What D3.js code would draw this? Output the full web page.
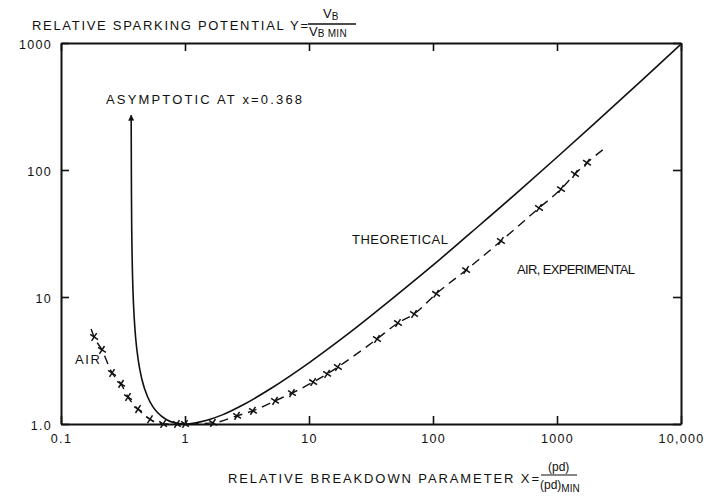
<!DOCTYPE html>
<html lang="en">
<head>
<meta charset="UTF-8">
<title>Relative sparking potential</title>
<style>
  body { margin: 0; background: #fff; }
  text { font-family: "Liberation Sans", Arial, sans-serif; fill: #111; }
</style>
</head>
<body>
<svg id="graph"></svg>
<script src="https://d3js.org/d3.v7.min.js"></script>
<script>
// tick values and labels
const xTicks = [0.1, 1, 10, 100, 1000, 10000];
const xTickLabels = ['0.1', '1', '10', '100', '1000', '10,000'];
const yTicks = [1, 10, 100, 1000];
const yTickLabels = ['1.0', '10', '100', '1000'];

// theoretical curve (X, Y)
const theoryX = [0.368, 0.369, 0.37, 0.372, 0.375, 0.38, 0.39, 0.4, 0.42, 0.45, 0.5, 0.55, 0.6, 0.7, 0.8, 1,
  1.5, 2, 3, 5, 10, 20, 50, 100, 200, 500, 1000, 2000, 5000, 10000];
const theoryY = [270, 121, 65, 33, 19.6, 11.7, 6.7, 4.76, 3.17, 2.23, 1.63, 1.37, 1.23, 1.09, 1.03, 1,
  1.07, 1.18, 1.43, 1.92, 3.03, 5.0, 10.2, 17.8, 31.8, 69, 126, 232, 525, 980];

// air, experimental (dashed line ends + x markers in between)
const airX = [0.175, 0.185, 0.214, 0.258, 0.305, 0.347, 0.418, 0.522, 0.666, 0.861, 1.0, 1.68, 2.63, 3.53,
  5.32, 7.29, 10.8, 14.0, 17.1, 35.3, 52.2, 70.3, 106, 185, 353, 716, 1077, 1396, 1746, 2440];
const airY = [5.6, 4.84, 3.83, 2.52, 2.07, 1.63, 1.31, 1.09, 1.0, 1.0, 1.0, 1.02, 1.16, 1.27,
  1.52, 1.75, 2.14, 2.48, 2.81, 4.67, 6.24, 7.35, 10.6, 16.3, 27.6, 50.2, 70.8, 93, 114, 149];

const width = 711, height = 499;
const margin = { top: 43, right: 30, bottom: 75, left: 61 };
const font = '"Liberation Sans", Arial, sans-serif';

const svg = d3.select('#graph').attr('width', width).attr('height', height);

const x = d3.scaleLog().domain([0.1, 10000]).range([margin.left, width - margin.right]);
const y = d3.scaleLog().domain([1, 1000]).range([height - margin.bottom, margin.top]);

const defs = svg.append('defs');
defs.append('marker')
  .attr('id', 'arrow')
  .attr('viewBox', '0 0 10 10')
  .attr('refX', 9).attr('refY', 5)
  .attr('markerWidth', 6).attr('markerHeight', 9)
  .attr('markerUnits', 'userSpaceOnUse')
  .attr('orient', 'auto-start-reverse')
  .append('path')
  .attr('d', 'M0,0 L10,5 L0,10 z')
  .attr('fill', '#111');

// axes: inward ticks, labels outside
const axBottom = svg.append('g')
  .attr('transform', `translate(0,${y.range()[0]})`)
  .call(d3.axisBottom(x).tickValues(xTicks).tickSizeInner(-8).tickSizeOuter(0)
    .tickPadding(8).tickFormat((d, i) => xTickLabels[i]));
const axTop = svg.append('g')
  .attr('transform', `translate(0,${y.range()[1]})`)
  .call(d3.axisTop(x).tickValues(xTicks).tickSizeInner(-8).tickSizeOuter(0).tickFormat(''));
const axLeft = svg.append('g')
  .attr('transform', `translate(${x.range()[0]},0)`)
  .call(d3.axisLeft(y).tickValues(yTicks).tickSizeInner(-8).tickSizeOuter(0)
    .tickPadding(9).tickFormat((d, i) => yTickLabels[i]));
const axRight = svg.append('g')
  .attr('transform', `translate(${x.range()[1]},0)`)
  .call(d3.axisRight(y).tickValues(yTicks).tickSizeInner(-8).tickSizeOuter(0).tickFormat(''));

[axBottom, axTop, axLeft, axRight].forEach(g => {
  g.select('.domain').attr('stroke', '#111').attr('stroke-width', 2);
  g.selectAll('.tick line').attr('stroke', '#111').attr('stroke-width', 1.6);
  g.selectAll('.tick text').attr('font-size', 12.5).attr('fill', '#111')
    .attr('letter-spacing', 1.3)
    .style('font-family', font);
});
axBottom.selectAll('.tick text').attr('dy', '0.85em');
axLeft.selectAll('.tick text').attr('dy', '0.4em');

// curves
const theory = theoryX.map((d, i) => [d, theoryY[i]]);
const air = airX.map((d, i) => [d, airY[i]]);

const line = d3.line()
  .x(d => x(d[0]))
  .y(d => y(d[1]))
  .curve(d3.curveMonotoneX);

svg.append('path')
  .datum(theory)
  .attr('d', line)
  .attr('fill', 'none')
  .attr('stroke', '#111')
  .attr('stroke-width', 1.6)
  .attr('marker-start', 'url(#arrow)');

svg.append('path')
  .datum(air)
  .attr('d', line)
  .attr('fill', 'none')
  .attr('stroke', '#111')
  .attr('stroke-width', 1.4)
  .attr('stroke-dasharray', '9,6');

svg.selectAll('.mark')
  .data(air.slice(1, -1))
  .enter().append('path')
  .attr('class', 'mark')
  .attr('transform', d => `translate(${x(d[0])},${y(d[1])}) rotate(-12)`)
  .attr('d', d3.symbol(d3.symbolX, 30))
  .attr('fill', 'none')
  .attr('stroke', '#111')
  .attr('stroke-width', 1.5);

// annotations
const label = (tx, ty, s, len) => svg.append('text')
  .attr('x', tx).attr('y', ty)
  .attr('font-size', 13)
  .attr('textLength', len).attr('lengthAdjust', 'spacing')
  .text(s);

label(106, 104, 'ASYMPTOTIC AT  x=0.368', 196);
label(352, 244, 'THEORETICAL', 96);
label(517, 274, 'AIR, EXPERIMENTAL', 118);
label(75, 364, 'AIR', 25);

// y title with fraction
label(32, 30, 'RELATIVE SPARKING POTENTIAL Y=', 276);
svg.append('line').attr('x1', 308).attr('x2', 356).attr('y1', 24).attr('y2', 24)
  .attr('stroke', '#111').attr('stroke-width', 1.3);
const yNum = svg.append('text').attr('x', 323).attr('y', 18).attr('font-size', 13);
yNum.append('tspan').text('V');
yNum.append('tspan').attr('font-size', 10).attr('dy', 2).text('B');
const yDen = svg.append('text').attr('x', 309).attr('y', 36).attr('font-size', 13);
yDen.append('tspan').text('V');
yDen.append('tspan').attr('font-size', 10).attr('dy', 1).attr('letter-spacing', 0.3).text('B MIN');

// x title with fraction
label(228, 483, 'RELATIVE BREAKDOWN PARAMETER X=', 311);
svg.append('line').attr('x1', 541).attr('x2', 577).attr('y1', 475).attr('y2', 475)
  .attr('stroke', '#111').attr('stroke-width', 1.2);
svg.append('text').attr('x', 548).attr('y', 471).attr('font-size', 12).text('(pd)');
const xDen = svg.append('text').attr('x', 540).attr('y', 489).attr('font-size', 12);
xDen.append('tspan').text('(pd)');
xDen.append('tspan').attr('font-size', 10).attr('dy', 3).text('MIN');
</script>
</body>
</html>
